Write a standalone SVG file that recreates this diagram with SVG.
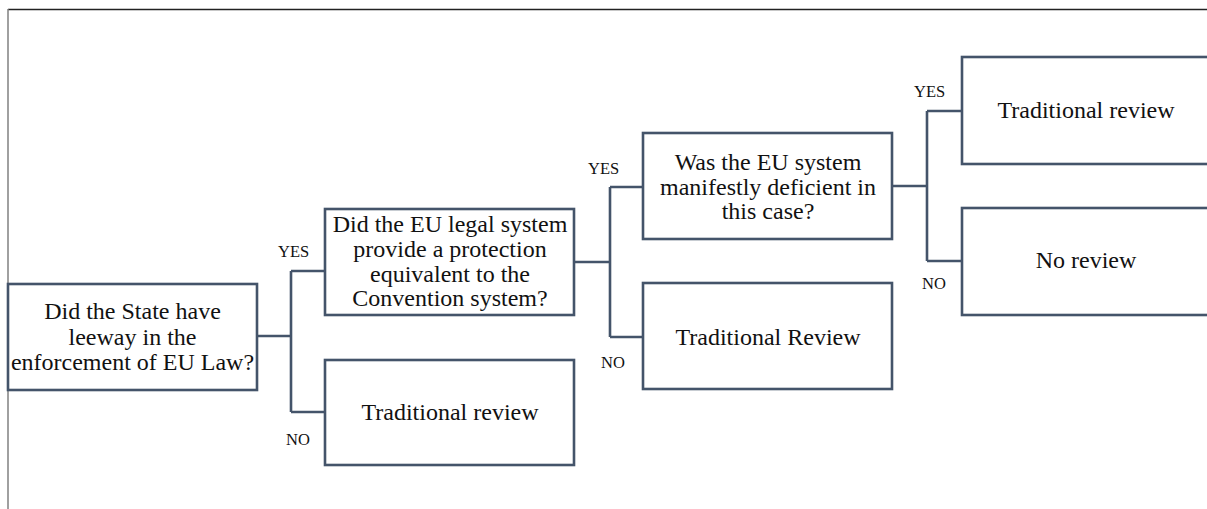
<svg xmlns="http://www.w3.org/2000/svg" width="1207" height="509" viewBox="0 0 1207 509">
<style>
.box{fill:#fff;stroke:#44546a;stroke-width:2.6}
.con{fill:none;stroke:#44546a;stroke-width:2.6}
.t{font-family:"Liberation Serif","Times New Roman",serif;font-size:24px;fill:#111;text-anchor:middle}
.lab{font-family:"Liberation Serif","Times New Roman",serif;font-size:16.5px;fill:#111}
</style>
<rect width="1207" height="509" fill="#fff"/>
<g id="frame">
<line x1="8" y1="9.5" x2="1207" y2="9.5" stroke="#222" stroke-width="1.5"/>
<line x1="8" y1="9" x2="8" y2="509" stroke="#808080" stroke-width="1.5"/>
</g>
<g id="connectors">
<path class="con" d="M257 336H291M291 271V412M291 271H325M291 412H325"/>
<path class="con" d="M574 262H610M610 187V337M610 187H643M610 337H643"/>
<path class="con" d="M893 186H927M927 111V261M927 111H962M927 261H962"/>
<text class="lab" x="278" y="257">YES</text>
<text class="lab" x="286" y="445">NO</text>
<text class="lab" x="588" y="174">YES</text>
<text class="lab" x="601" y="368">NO</text>
<text class="lab" x="914" y="97">YES</text>
<text class="lab" x="922" y="289">NO</text>
</g>
<g id="n1">
<rect class="box" x="8" y="284" width="249" height="106"/>
<text class="t" x="132.5" y="319">Did the State have</text>
<text class="t" x="132.5" y="344.5">leeway in the</text>
<text class="t" x="132.5" y="370">enforcement of EU Law?</text>
</g>
<g id="n2">
<rect class="box" x="325" y="209" width="249" height="106"/>
<text class="t" x="450" y="232">Did the EU legal system</text>
<text class="t" x="450" y="257">provide a protection</text>
<text class="t" x="450" y="282">equivalent to the</text>
<text class="t" x="450" y="306">Convention system?</text>
</g>
<g id="n3">
<rect class="box" x="325" y="360" width="249" height="105"/>
<text class="t" x="450" y="420">Traditional review</text>
</g>
<g id="n4">
<rect class="box" x="643" y="133" width="249" height="106"/>
<text class="t" x="768" y="170">Was the EU system</text>
<text class="t" x="768" y="194.5">manifestly deficient in</text>
<text class="t" x="768" y="219">this case?</text>
</g>
<g id="n5">
<rect class="box" x="643" y="283" width="249" height="106"/>
<text class="t" x="768" y="345">Traditional Review</text>
</g>
<g id="n6">
<rect class="box" x="962" y="57" width="260" height="107"/>
<text class="t" x="1086" y="118">Traditional review</text>
</g>
<g id="n7">
<rect class="box" x="962" y="208" width="260" height="107"/>
<text class="t" x="1086" y="268">No review</text>
</g>
</svg>
